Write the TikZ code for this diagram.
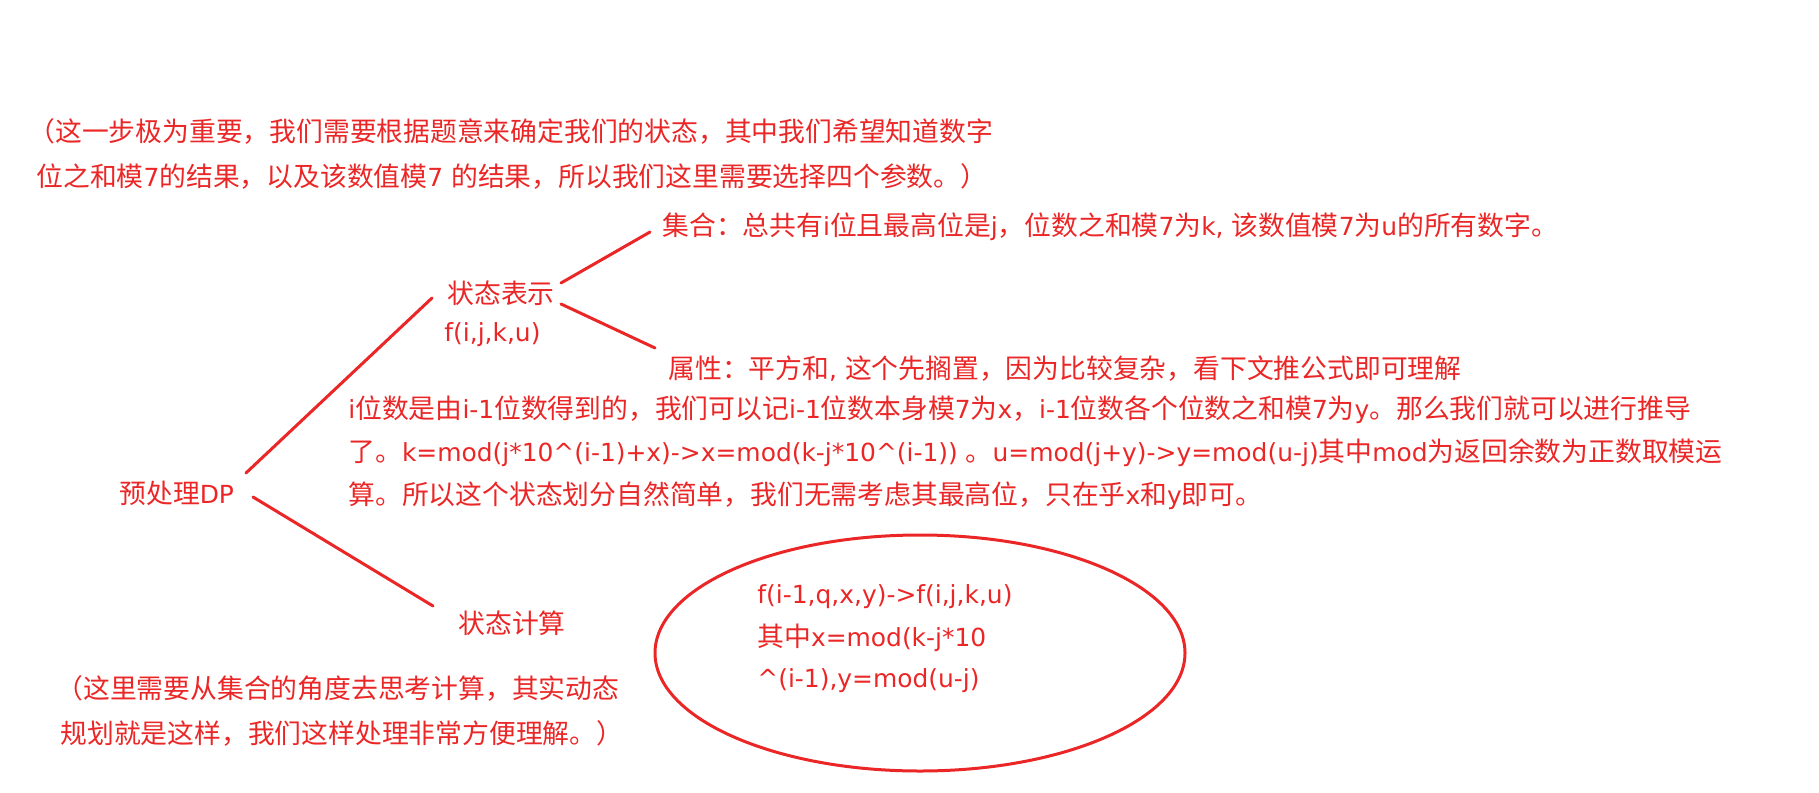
\documentclass[tikz,border=0pt]{standalone}
\usepackage{fontspec}
\usetikzlibrary{shapes.geometric}
\setmainfont{Noto Sans CJK SC}
\newfontfamily\cjkf{Noto Sans CJK SC}
\newfontfamily\latf{DejaVu Sans}[Scale=0.93]
\newcount\mycc
\mycc="3000 \loop \XeTeXcharclass\mycc=1 \advance\mycc by 1 \ifnum\mycc<"3040 \repeat
\mycc="4E00 \loop \XeTeXcharclass\mycc=1 \advance\mycc by 1 \ifnum\mycc<"A000 \repeat
\mycc="FF00 \loop \XeTeXcharclass\mycc=1 \advance\mycc by 1 \ifnum\mycc<"FFF0 \repeat
\XeTeXinterchartokenstate=1
\XeTeXinterchartoks 0 1 {\cjkf}
\XeTeXinterchartoks 1 0 {\latf}
\XeTeXinterchartoks 4095 0 {\latf}
\XeTeXinterchartoks 4095 1 {\cjkf}
\definecolor{pen}{RGB}{235,38,38}
\tikzset{
  txt/.style={anchor=west,inner sep=0pt,text=pen,font=\fontsize{13.4}{16}\selectfont},
  link/.style={draw=pen,line width=1.5pt,line cap=round},
}
\begin{document}
\begin{tikzpicture}[x=0.5pt,y=-0.5pt]
\useasboundingbox (0,0) rectangle (1819,792);
% top note
\node[txt] (n1a) at (28,131) {（这一步极为重要，我们需要根据题意来确定我们的状态，其中我们希望知道数字};
\node[txt] (n1b) at (36,176) {位之和模7的结果，以及该数值模7 的结果，所以我们这里需要选择四个参数。）};
% root
\node[txt] (root) at (119,493) {预处理DP};
% state representation
\node[txt] (rep) at (447,293) {状态表示};
\node[txt] (repf) at (444,335) {f(i,j,k,u)};
\node[txt] (set) at (662,227) {集合：总共有i位且最高位是j，位数之和模7为k, 该数值模7为u的所有数字。};
\node[txt] (attr) at (668,369) {属性：平方和, 这个先搁置，因为比较复杂，看下文推公式即可理解};
% derivation text
\node[txt] (d1) at (348,410) {i位数是由i-1位数得到的，我们可以记i-1位数本身模7为x，i-1位数各个位数之和模7为y。那么我们就可以进行推导};
\node[txt] (d2) at (348,453) {了。k=mod(j*10\^{}(i-1)+x)->x=mod(k-j*10\^{}(i-1)) 。u=mod(j+y)->y=mod(u-j)其中mod为返回余数为正数取模运};
\node[txt] (d3) at (348,496) {算。所以这个状态划分自然简单，我们无需考虑其最高位，只在乎x和y即可。};
% state computation
\node[txt] (calc) at (458,623) {状态计算};
\node[txt] (n2a) at (56,688) {（这里需要从集合的角度去思考计算，其实动态};
\node[txt] (n2b) at (60,733) {规划就是这样，我们这样处理非常方便理解。）};
% ellipse
\node[draw=pen,line width=1.5pt,ellipse,minimum width=265pt,minimum height=118pt,inner sep=0pt] (ell) at (920,653) {};
\node[txt] (e1) at (757,597) {f(i-1,q,x,y)->f(i,j,k,u)};
\node[txt] (e2) at (757,638) {其中x=mod(k-j*10};
\node[txt] (e3) at (757,681) {\^{}(i-1),y=mod(u-j)};
% connectors
\coordinate (rootU) at (246,473);
\coordinate (rootD) at (253,497);
\coordinate (repL) at (432,298);
\coordinate (calcL) at (433,606);
\coordinate (repU) at (561,283);
\coordinate (repD) at (561,304);
\coordinate (setL) at (650,232);
\coordinate (attrL) at (655,348);
\draw[link] (rootU) -- (repL);
\draw[link] (rootD) -- (calcL);
\draw[link] (repU) -- (setL);
\draw[link] (repD) -- (attrL);
\end{tikzpicture}
\end{document}
